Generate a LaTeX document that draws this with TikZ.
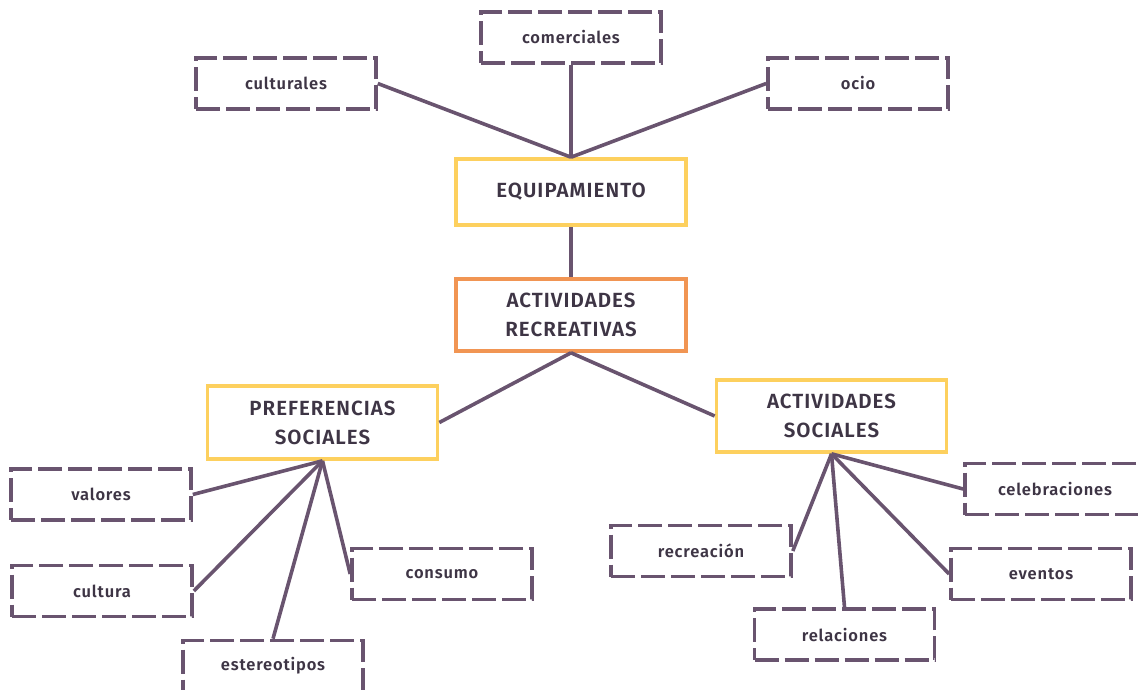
\documentclass[tikz,border=0pt]{standalone}
\usepackage{fontspec}
\setmainfont{Fira Sans}[BoldFont={Fira Sans SemiBold}, LetterSpace=5]
\definecolor{lineP}{HTML}{69546F}
\definecolor{txtD}{HTML}{3E3545}
\definecolor{yelB}{HTML}{FDD05E}
\definecolor{oraB}{HTML}{F19553}
\tikzset{
  leaf/.style={draw=lineP, line width=3.6pt, dash pattern=on 24pt off 6pt, minimum width=180pt, minimum height=51pt, inner sep=0pt, text=txtD, font=\fontsize{16.5}{20}\selectfont\bfseries},
  mainbox/.style={draw=yelB, line width=3.6pt, minimum width=230pt, inner sep=0pt, align=center, text=txtD, font=\fontsize{20.5}{29}\selectfont\bfseries},
  link/.style={draw=lineP, line width=3.6pt}
}
\begin{document}
\begin{tikzpicture}[x=1pt,y=-1pt]
\useasboundingbox (0,0) rectangle (1138,689);
% hub nodes
\node[mainbox, minimum height=66pt] (equip) at (571,192) {EQUIPAMIENTO};
\node[mainbox, draw=oraB, minimum height=72pt] (recre) at (571,315) {ACTIVIDADES\\RECREATIVAS};
\node[mainbox, minimum height=73pt] (pref) at (322.5,422.5) {PREFERENCIAS\\SOCIALES};
\node[mainbox, minimum height=72pt] (actsoc) at (831.5,416) {ACTIVIDADES\\SOCIALES};
% leaves
\node[leaf] (comer) at (571,37.5) {comerciales};
\node[leaf] (cultu) at (286,83.5) {culturales};
\node[leaf] (ocio) at (858,83.5) {ocio};
\node[leaf] (valor) at (101,494.5) {valores};
\node[leaf] (cultura) at (102,591) {cultura};
\node[leaf] (consu) at (442,574) {consumo};
\node[leaf] (ester) at (273,666) {estereotipos};
\node[leaf] (recrea) at (701,551) {recreación};
\node[leaf] (relac) at (844.5,634.5) {relaciones};
\node[leaf] (celeb) at (1055,489) {celebraciones};
\node[leaf] (event) at (1041,574) {eventos};
% connectors
\draw[link] (cultu.east) -- (equip.north);
\draw[link] (comer.south) -- (equip.north);
\draw[link] (ocio.west) -- (equip.north);
\draw[link] (equip.south) -- (recre.north);
\draw[link] (recre.south) -- (pref.east);
\draw[link] (recre.south) -- (actsoc.west);
\draw[link] (pref.south) -- (valor.east);
\draw[link] (pref.south) -- (cultura.east);
\draw[link] (pref.south) -- (ester.north);
\draw[link] (pref.south) -- (consu.west);
\draw[link] (actsoc.south) -- (recrea.east);
\draw[link] (actsoc.south) -- (relac.north);
\draw[link] (actsoc.south) -- (event.west);
\draw[link] (actsoc.south) -- (celeb.west);
\end{tikzpicture}
\end{document}
